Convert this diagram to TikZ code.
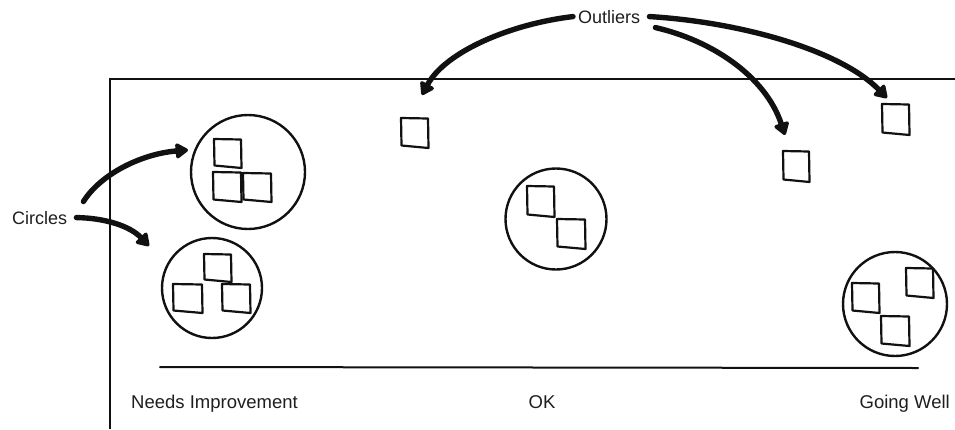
\documentclass[tikz,border=0pt]{standalone}
\usepackage{fontspec}
\setmainfont{Liberation Sans}
\usetikzlibrary{arrows.meta}

\definecolor{ink}{HTML}{111111}
\definecolor{textink}{HTML}{1E1E1E}

\tikzset{
  frameline/.style={draw=ink, line width=1.8pt},
  axisline/.style={draw=ink, line width=2pt, line cap=round},
  group/.style={circle, draw=ink, line width=2.4pt, inner sep=0pt, minimum size=#1},
  cardline/.style={draw=ink, line width=2.2pt, line join=round},
  label/.style={inner sep=0pt, text=textink, font=\fontsize{18.5}{21}\selectfont},
  callout/.style={inner sep=5pt, text=textink, font=\fontsize{18}{21}\selectfont},
  pointer/.style={draw=ink, line width=5.4pt, line cap=round,
    -{Triangle[length=14pt,width=17pt,round]}},
  pics/card/.style args={#1/#2}{code={
    \draw[cardline] (0,0) -- (#1,0.5) -- (#1+0.5,#2) -- (0.5,#2-2.5) -- cycle;
  }}
}

\begin{document}
\begin{tikzpicture}[x=1pt, y=-1pt]
  \useasboundingbox (0,0) rectangle (955,429);

  % board outline
  \draw[frameline] (110,429) -- (110,79) -- (955,79);

  % horizontal scale and its labels
  \draw[axisline] (160,367) -- (918,368);
  \node[label, anchor=base west] (needs) at (131,408) {Needs Improvement};
  \node[label, anchor=base] (ok) at (542,408) {OK};
  \node[label, anchor=base east] (well) at (950,408) {Going Well};

  % clusters of cards
  \node[group=114pt] (grpA) at (248,172) {};
  \node[group=100pt] (grpB) at (212,288) {};
  \node[group=101pt] (grpC) at (556,219) {};
  \node[group=104pt] (grpD) at (895,304) {};

  \pic at (214,139) {card=27/29};
  \pic at (213,172) {card=28/30};
  \pic at (243,173) {card=28/29};

  \pic at (204,254) {card=27/28};
  \pic at (173,284) {card=29/29};
  \pic at (222,284) {card=28/29};

  \pic at (527,186) {card=27/31};
  \pic at (557,219) {card=28/30};

  \pic at (906,268) {card=27/30};
  \pic at (852,283) {card=27/30};
  \pic at (881,316) {card=28/30};

  % single cards
  \pic at (401,118) {card=27/30};
  \pic at (783,151) {card=26/31};
  \pic at (882,104) {card=27/31};

  % callouts
  \node[callout, anchor=base west] (circles) at (7,224) {Circles};
  \node[callout, anchor=base west] (outliers) at (573,23) {Outliers};

  \coordinate (tipA) at (188,150);
  \coordinate (tipB) at (149,246);
  \coordinate (tipC) at (422,95);
  \coordinate (tipD) at (785,135);
  \coordinate (tipE) at (887,98);

  \draw[pointer] ([shift={(11,-16)}]circles.east) .. controls (100,175) and (140,154) .. (tipA);
  \draw[pointer] ([shift={(4,0)}]circles.east) .. controls (105,218) and (130,226) .. (tipB);

  \draw[pointer] (outliers.west) .. controls (510,24) and (445,52) .. (tipC);
  \draw[pointer] ([shift={(10,11)}]outliers.east) .. controls (710,40) and (765,75) .. (tipD);
  \draw[pointer] ([shift={(4,0)}]outliers.east) .. controls (740,22) and (840,50) .. (tipE);
\end{tikzpicture}
\end{document}
